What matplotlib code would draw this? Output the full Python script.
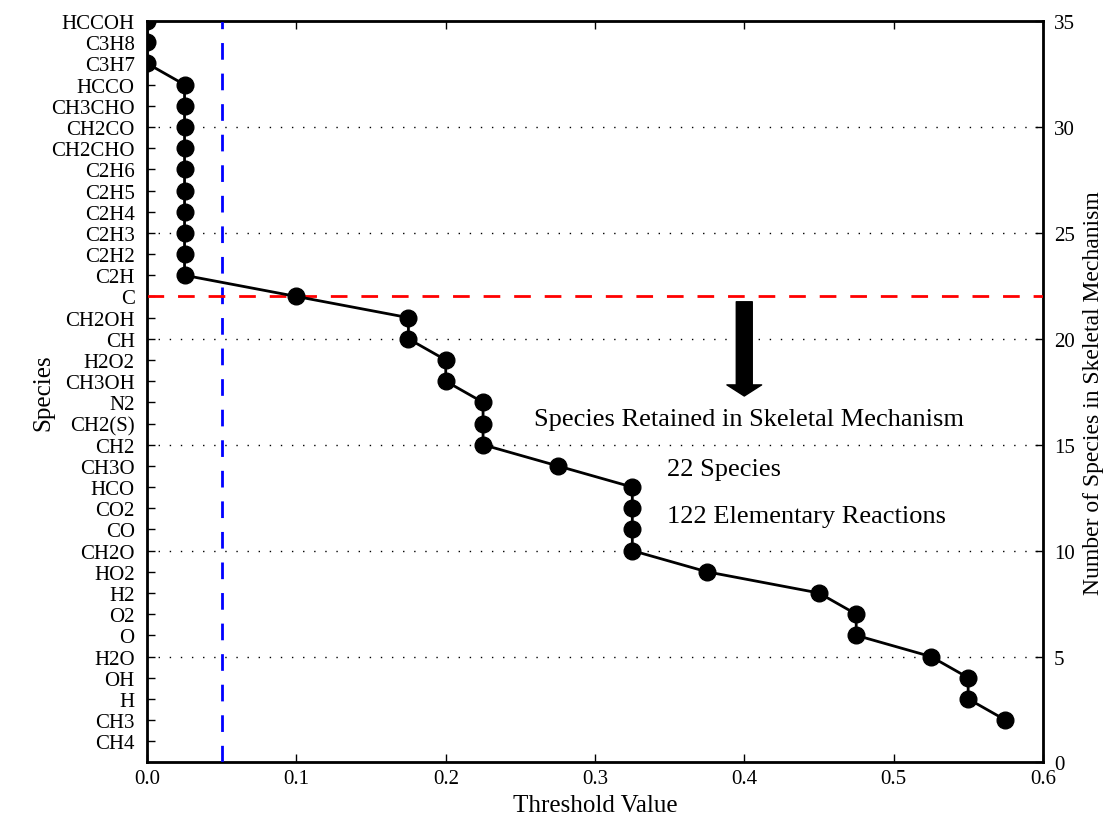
import numpy as np
import matplotlib.pyplot as plt

plt.rcParams['font.family'] = ['Liberation Serif', 'DejaVu Serif']
plt.rcParams['mathtext.fontset'] = 'stix'

# species ordered by number of species retained (1 .. 35)
species = ['CH4', 'CH3', 'H', 'OH', 'H2O', 'O', 'O2', 'H2', 'HO2', 'CH2O',
           'CO', 'CO2', 'HCO', 'CH3O', 'CH2', 'CH2(S)', 'N2', 'CH3OH', 'H2O2',
           'CH', 'CH2OH', 'C', 'C2H', 'C2H2', 'C2H3', 'C2H4', 'C2H5', 'C2H6',
           'CH2CHO', 'CH2CO', 'CH3CHO', 'HCCO', 'C3H7', 'C3H8', 'HCCOH']
species_pos = np.arange(1, len(species) + 1)

# threshold value vs. number of species in skeletal mechanism
n_species = [2, 3, 4, 5, 6, 7, 8, 9, 10, 11, 12, 13, 14, 15, 16, 17, 18,
             19, 20, 21, 22, 23, 24, 25, 26, 27, 28, 29, 30, 31, 32, 33, 34, 35]
threshold = [0.575, 0.55, 0.55, 0.525, 0.475, 0.475, 0.45, 0.375, 0.325,
             0.325, 0.325, 0.325, 0.275, 0.225, 0.225, 0.225, 0.2, 0.2,
             0.175, 0.175, 0.1, 0.025, 0.025, 0.025, 0.025, 0.025, 0.025,
             0.025, 0.025, 0.025, 0.025, 0.0, 0.0, 0.0]

chosen_threshold = 0.05
chosen_species = 22

fig, ax = plt.subplots(figsize=(11.07, 8.2), dpi=100)
fig.subplots_adjust(left=0.133, right=0.942, top=0.973, bottom=0.069)

ax.set_xlim(0, 0.6)
ax.set_ylim(0, 35)
ax.set_yticks(species_pos)
ax.set_yticklabels(species, fontsize=15)
ax.set_xticks(np.arange(0, 0.61, 0.1))
ax.set_xticklabels(['%.1f' % v for v in np.arange(0, 0.61, 0.1)], fontsize=15)
ax.tick_params(direction='in', top=True, length=6, width=1)
ax.tick_params(axis='y', pad=9)
ax.tick_params(axis='x', pad=5)
ax.set_xlabel('Threshold Value', fontsize=18, labelpad=4)
ax.set_ylabel('Species', fontsize=18, labelpad=-2)
for s in ax.spines.values():
    s.set_linewidth(2)

ax2 = ax.twinx()
ax2.set_ylim(0, 35)
ax2.set_yticks(np.arange(0, 36, 5))
ax2.set_yticklabels([str(v) for v in range(0, 36, 5)], fontsize=15)
ax2.tick_params(direction='in', length=6, width=1, pad=8)
ax2.set_ylabel('Number of Species in Skeletal Mechanism', fontsize=17, labelpad=6)
for y in range(5, 35, 5):
    ax2.axhline(y, color='black', linestyle=(0, (1, 7)), linewidth=1, zorder=1)

ax2.plot(threshold, n_species, '-o', color='black', linewidth=2,
         markersize=12, zorder=5, clip_on=True)
ax2.axvline(chosen_threshold, color='blue', linestyle=(0, (6, 5)), linewidth=2)
ax2.axhline(chosen_species, color='red', linestyle=(0, (6, 5)), linewidth=2)

ax2.annotate('', xy=(0.4, 17.3), xytext=(0.4, 21.75),
             arrowprops=dict(arrowstyle='simple,head_width=2.5,head_length=0.8,tail_width=1.15',
                             mutation_scale=10, color='black', shrinkA=0, shrinkB=0))
ax2.text(0.403, 16.2, 'Species Retained in Skeletal Mechanism', fontsize=19,
         ha='center', va='center')
ax2.text(0.348, 13.85, '22 Species', fontsize=19, ha='left', va='center')
ax2.text(0.348, 11.65, '122 Elementary Reactions', fontsize=19, ha='left', va='center')

plt.savefig('out.png')
